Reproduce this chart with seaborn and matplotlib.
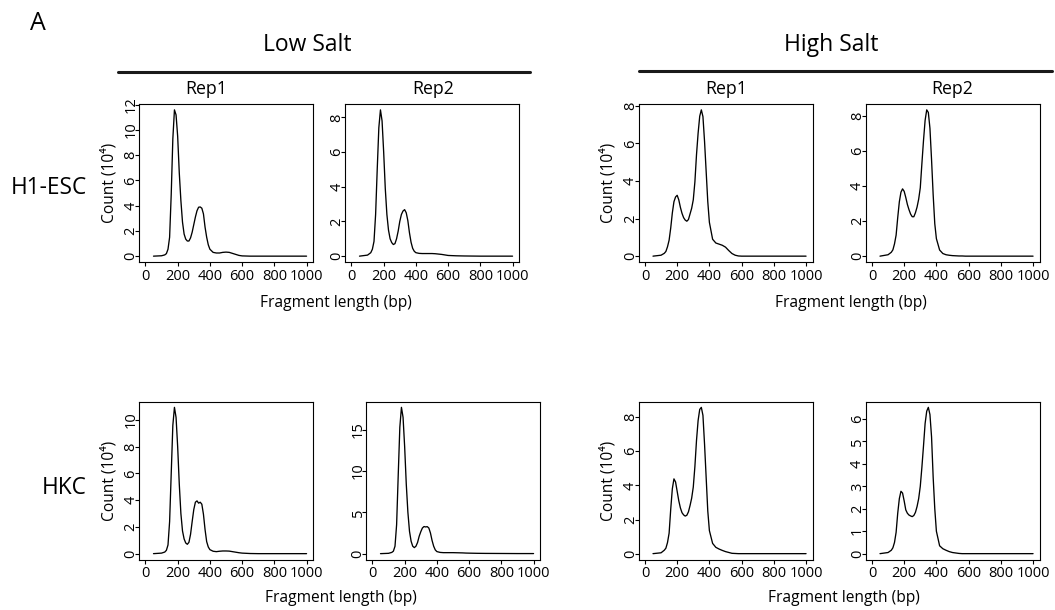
import numpy as np
import pandas as pd
import seaborn as sns
import matplotlib
matplotlib.use("Agg")
import matplotlib.pyplot as plt
from matplotlib.lines import Line2D

sns.set_style("white")
plt.rcParams['font.family'] = ['Open Sans', 'DejaVu Sans']
plt.rcParams['text.color'] = 'black'
plt.rcParams['axes.labelcolor'] = 'black'
plt.rcParams['xtick.color'] = 'black'
plt.rcParams['ytick.color'] = 'black'

# ---------------- data (counts in units of 10^4) ----------------
frag_len = [50, 100, 120, 130, 140, 150, 160, 170, 180, 190, 200, 210, 220, 230, 240,
            250, 260, 270, 280, 290, 300, 310, 320, 330, 340, 350, 360, 370, 380, 390,
            400, 420, 440, 460, 480, 500, 520, 540, 560, 580, 600, 650, 700, 800, 900, 1000]

h1_low_rep1 = [0, 0.03, 0.1, 0.2, 0.55, 1.5, 4.9, 9.3, 11.6, 11.2, 9.5, 6.6, 4.4, 2.7, 1.75,
               1.35, 1.2, 1.2, 1.45, 1.9, 2.5, 3.1, 3.6, 3.88, 3.9, 3.8, 3.35, 2.3, 1.5, 0.9,
               0.55, 0.3, 0.25, 0.25, 0.3, 0.32, 0.3, 0.22, 0.14, 0.06, 0.02, 0, 0, 0, 0, 0]
h1_low_rep2 = [0, 0.06, 0.2, 0.4, 0.85, 2.4, 5.0, 7.4, 8.43, 7.8, 6.0, 3.9, 2.4, 1.5, 1.0,
               0.78, 0.67, 0.72, 1.0, 1.44, 2.0, 2.4, 2.6, 2.68, 2.5, 2.05, 1.35, 0.8, 0.45, 0.28,
               0.2, 0.16, 0.15, 0.15, 0.15, 0.15, 0.14, 0.12, 0.1, 0.07, 0.04, 0.02, 0.01, 0, 0, 0]
h1_high_rep1 = [0, 0.05, 0.15, 0.25, 0.5, 0.85, 1.5, 2.3, 2.9, 3.15, 3.24, 3.0, 2.6, 2.28, 2.05,
                1.92, 1.86, 1.95, 2.25, 2.55, 3.0, 3.95, 5.4, 6.55, 7.45, 7.79, 7.43, 6.1, 4.5, 2.9,
                1.8, 0.9, 0.7, 0.64, 0.58, 0.48, 0.3, 0.14, 0.05, 0.01, 0, 0, 0, 0, 0, 0]
h1_high_rep2 = [0, 0.08, 0.22, 0.36, 0.7, 1.2, 2.2, 3.1, 3.65, 3.84, 3.7, 3.35, 2.95, 2.65, 2.4,
                2.25, 2.25, 2.48, 2.8, 3.25, 3.9, 5.28, 6.6, 7.75, 8.35, 8.2, 7.3, 5.5, 3.5, 1.85,
                1.0, 0.35, 0.15, 0.08, 0.05, 0.03, 0.02, 0.01, 0.01, 0, 0, 0, 0, 0, 0, 0]
hkc_low_rep1 = [0, 0.04, 0.12, 0.25, 0.65, 2.4, 6.0, 9.6, 10.95, 10.2, 8.0, 5.2, 3.0, 1.7, 1.1,
                0.8, 0.7, 0.85, 1.45, 2.4, 3.3, 3.85, 3.95, 3.78, 3.85, 3.7, 2.95, 1.8, 0.9, 0.5,
                0.3, 0.18, 0.15, 0.18, 0.2, 0.2, 0.19, 0.15, 0.11, 0.07, 0.04, 0.01, 0, 0, 0, 0]
hkc_low_rep2 = [0, 0.04, 0.15, 0.3, 0.9, 3.5, 9.5, 15.3, 17.7, 16.5, 12.9, 8.4, 5.0, 2.7, 1.5,
                0.9, 0.73, 0.9, 1.35, 2.1, 2.65, 3.1, 3.28, 3.23, 3.27, 3.1, 2.5, 1.6, 0.9, 0.45,
                0.25, 0.15, 0.12, 0.12, 0.12, 0.12, 0.11, 0.1, 0.09, 0.07, 0.06, 0.04, 0.03, 0.02, 0.01, 0.01]
hkc_high_rep1 = [0, 0.05, 0.2, 0.32, 0.65, 1.2, 2.6, 3.8, 4.38, 4.2, 3.65, 3.1, 2.68, 2.4, 2.27,
                 2.2, 2.25, 2.45, 2.82, 3.25, 3.9, 5.1, 6.63, 7.8, 8.45, 8.57, 8.1, 6.4, 4.45, 2.5,
                 1.35, 0.6, 0.37, 0.27, 0.19, 0.12, 0.07, 0.02, 0.01, 0, 0, 0, 0, 0, 0, 0]
hkc_high_rep2 = [0, 0.05, 0.15, 0.26, 0.5, 0.95, 1.8, 2.45, 2.78, 2.7, 2.35, 1.95, 1.8, 1.72, 1.68,
                 1.65, 1.7, 1.84, 2.1, 2.45, 3.0, 3.85, 4.8, 5.8, 6.35, 6.52, 6.2, 5.2, 3.4, 2.0,
                 1.0, 0.35, 0.22, 0.15, 0.09, 0.05, 0.03, 0.01, 0, 0, 0, 0, 0, 0, 0, 0]

x_ticks = [0, 200, 400, 600, 800, 1000]
y_ticks_h1_low_rep1 = [0, 2, 4, 6, 8, 10, 12]
y_ticks_h1_low_rep2 = [0, 2, 4, 6, 8]
y_ticks_h1_high_rep1 = [0, 2, 4, 6, 8]
y_ticks_h1_high_rep2 = [0, 2, 4, 6, 8]
y_ticks_hkc_low_rep1 = [0, 2, 4, 6, 8, 10]
y_ticks_hkc_low_rep2 = [0, 5, 10, 15]
y_ticks_hkc_high_rep1 = [0, 2, 4, 6, 8]
y_ticks_hkc_high_rep2 = [0, 1, 2, 3, 4, 5, 6]

cell_lines = ["H1-ESC", "HKC"]
salt_groups = ["Low Salt", "High Salt"]
rep_labels = ["Rep1", "Rep2"]
y_title = "Count (10\u2074)"
x_title = "Fragment length (bp)"

# ---------------- figure ----------------
W, H = 1055, 610
fig = plt.figure(figsize=(W / 100, H / 100), dpi=100)

def fx(px):
    return px / W

def fy(py):
    return 1 - py / H

aw, ah = 174, 158
panels = [
    # (series, yticks, left_px, top_px, show_ylabel)
    (h1_low_rep1, y_ticks_h1_low_rep1, 139, 104, True),
    (h1_low_rep2, y_ticks_h1_low_rep2, 345, 104, False),
    (h1_high_rep1, y_ticks_h1_high_rep1, 638.5, 104, True),
    (h1_high_rep2, y_ticks_h1_high_rep2, 865.5, 104, False),
    (hkc_low_rep1, y_ticks_hkc_low_rep1, 139, 401.5, True),
    (hkc_low_rep2, y_ticks_hkc_low_rep2, 366, 401.5, False),
    (hkc_high_rep1, y_ticks_hkc_high_rep1, 638.5, 401.5, True),
    (hkc_high_rep2, y_ticks_hkc_high_rep2, 865.5, 401.5, False),
]

for series, yt, left, top, show_yl in panels:
    ax = fig.add_axes([fx(left), fy(top + ah), aw / W, ah / H])
    df = pd.DataFrame({"len": frag_len, "count": series})
    sns.lineplot(data=df, x="len", y="count", ax=ax, color="black", linewidth=0.95)
    ymax = max(series)
    ax.set_ylim(-0.04 * ymax, 1.04 * ymax)
    ax.set_xlim(-40, 1040)
    ax.set_xticks(x_ticks)
    ax.set_yticks(yt)
    ax.set_xticklabels([str(v) for v in x_ticks])
    ax.set_yticklabels([str(v) for v in yt])
    for sp in ax.spines.values():
        sp.set_visible(True)
        sp.set_color("black")
        sp.set_linewidth(0.8)
    ax.tick_params(axis="x", which="major", direction="out", length=2.6, width=0.8,
                   color="black", labelsize=10.5, pad=2.2, bottom=True)
    ax.tick_params(axis="y", which="major", direction="out", length=2.6, width=0.8,
                   color="black", labelsize=10.5, pad=-2.3, left=True, labelrotation=90)
    for lab in ax.get_yticklabels():
        lab.set_va("center")
    ax.set_xlabel("")
    if show_yl:
        ax.set_ylabel(y_title, fontsize=11.2, labelpad=4.5)
    else:
        ax.set_ylabel("")

# group headers
for name, cx, x0, x1, ly in [(salt_groups[0], 307, 118, 530, 71.5),
                             (salt_groups[1], 831, 639, 1052, 70.5)]:
    fig.text(fx(cx), fy(45), name, fontsize=16.5, ha="center", va="center")
    fig.add_artist(Line2D([fx(x0), fx(x1)], [fy(ly), fy(ly)], color="#1a1a1a",
                          linewidth=2.2, transform=fig.transFigure))

# rep labels (top row only)
for lab, cx in [(rep_labels[0], 206), (rep_labels[1], 433), (rep_labels[0], 726), (rep_labels[1], 952)]:
    fig.text(fx(cx), fy(89), lab, fontsize=12.8, ha="center", va="center")

# row labels
fig.text(fx(87), fy(188), cell_lines[0], fontsize=16.3, ha="right", va="center")
fig.text(fx(87), fy(488), cell_lines[1], fontsize=16.3, ha="right", va="center")

# x titles
for cx, cy in [(336, 303), (851, 303), (341, 598), (844, 598)]:
    fig.text(fx(cx), fy(cy), x_title, fontsize=11.2, ha="center", va="center")

# panel letter
fig.text(fx(38), fy(23), "A", fontsize=18, ha="center", va="center")

fig.savefig("out.png", dpi=100)
